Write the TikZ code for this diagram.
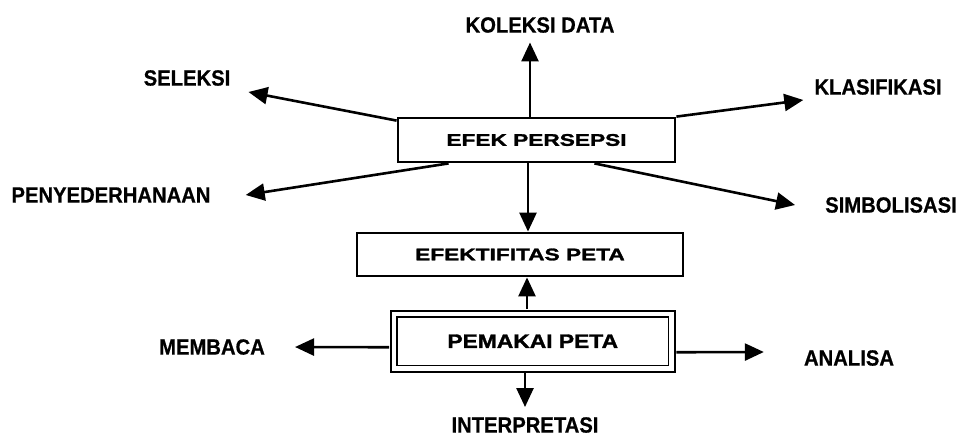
\documentclass[tikz,border=0pt]{standalone}
\usepackage{fontspec}
\setmainfont{Liberation Sans}
\newfontfamily\lblfont{Liberation Sans}[FakeStretch=0.92,FakeBold=0.6]
\newfontfamily\boxfont{Liberation Sans}[FakeStretch=1.35,FakeBold=1.6]
\newfontfamily\ppfont{Liberation Sans}[FakeStretch=1.17,FakeBold=1.6]
\usetikzlibrary{arrows.meta,calc}
\tikzset{
  lbl/.style={inner sep=0pt, font=\lblfont\bfseries\fontsize{22}{22}\selectfont},
  boxnode/.style={draw, line width=2.8pt, inner sep=0pt, font=\boxfont\bfseries\fontsize{16.8}{17}\selectfont},
  ppnode/.style={draw, double, double distance=4.4pt, line width=1.8pt, inner sep=0pt, font=\ppfont\bfseries\fontsize{19.5}{20}\selectfont},
  arr/.style={line width=2.6pt, -{Triangle[length=19pt,width=17pt]}}
}
\begin{document}
\begin{tikzpicture}[x=1pt,y=-1pt]
\useasboundingbox[fill=white] (0,0) rectangle (965,439);
% boxes
\node[boxnode, minimum width=277pt, minimum height=44pt] (ep) at (536.5,140) {EFEK PERSEPSI};
\node[boxnode, minimum width=326pt, minimum height=43pt] (ef) at (520,254.5) {EFEKTIFITAS PETA};
\node[ppnode, minimum width=277.5pt, minimum height=54.5pt] (pp) at (532.75,341.25) {PEMAKAI PETA};
% labels
\node[lbl] (kol) at (540,25) {KOLEKSI DATA};
\node[lbl] (sel) at (187,78) {SELEKSI};
\node[lbl] (kla) at (878,87) {KLASIFIKASI};
\node[lbl] (pen) at (111,195) {PENYEDERHANAAN};
\node[lbl] (sim) at (891,205) {SIMBOLISASI};
\node[lbl] (mem) at (212,347) {MEMBACA};
\node[lbl] (ana) at (849,358) {ANALISA};
\node[lbl] (int) at (525,425) {INTERPRETASI};
% connectors from EFEK PERSEPSI
\draw[arr] ($(ep.north)+(-6.5,0)$) -- ($(kol.south)+(-10,9.5)$);
\draw[arr] ($(ep.north west)+(0,4)$) -- ($(sel.east)+(18,14)$);
\draw[arr] ($(ep.south west)+(52,0)$) -- ($(pen.east)+(35,0)$);
\draw[arr] (ep.north east) -- ($(kla.west)+(-11,13)$);
\draw[arr] ($(ep.south east)+(-82,0)$) -- ($(sim.west)+(-30,0)$);
\draw[arr] ($(ep.south)+(-8.5,0)$) -- ($(ef.north)+(8,0)$);
% connectors from PEMAKAI PETA
\draw[arr] ($(pp.north)+(-5.75,-4)$) -- ($(ef.south)+(7,0)$);
\draw[arr] ($(pp.south)+(-7.75,4)$) -- ($(int.north)+(0,-10)$);
\draw[arr] ($(pp.west)+(-4,6)$) -- ($(mem.east)+(30,0)$);
\draw[arr] ($(pp.east)+(4,11)$) -- ($(ana.west)+(-40,-6)$);
\end{tikzpicture}
\end{document}
